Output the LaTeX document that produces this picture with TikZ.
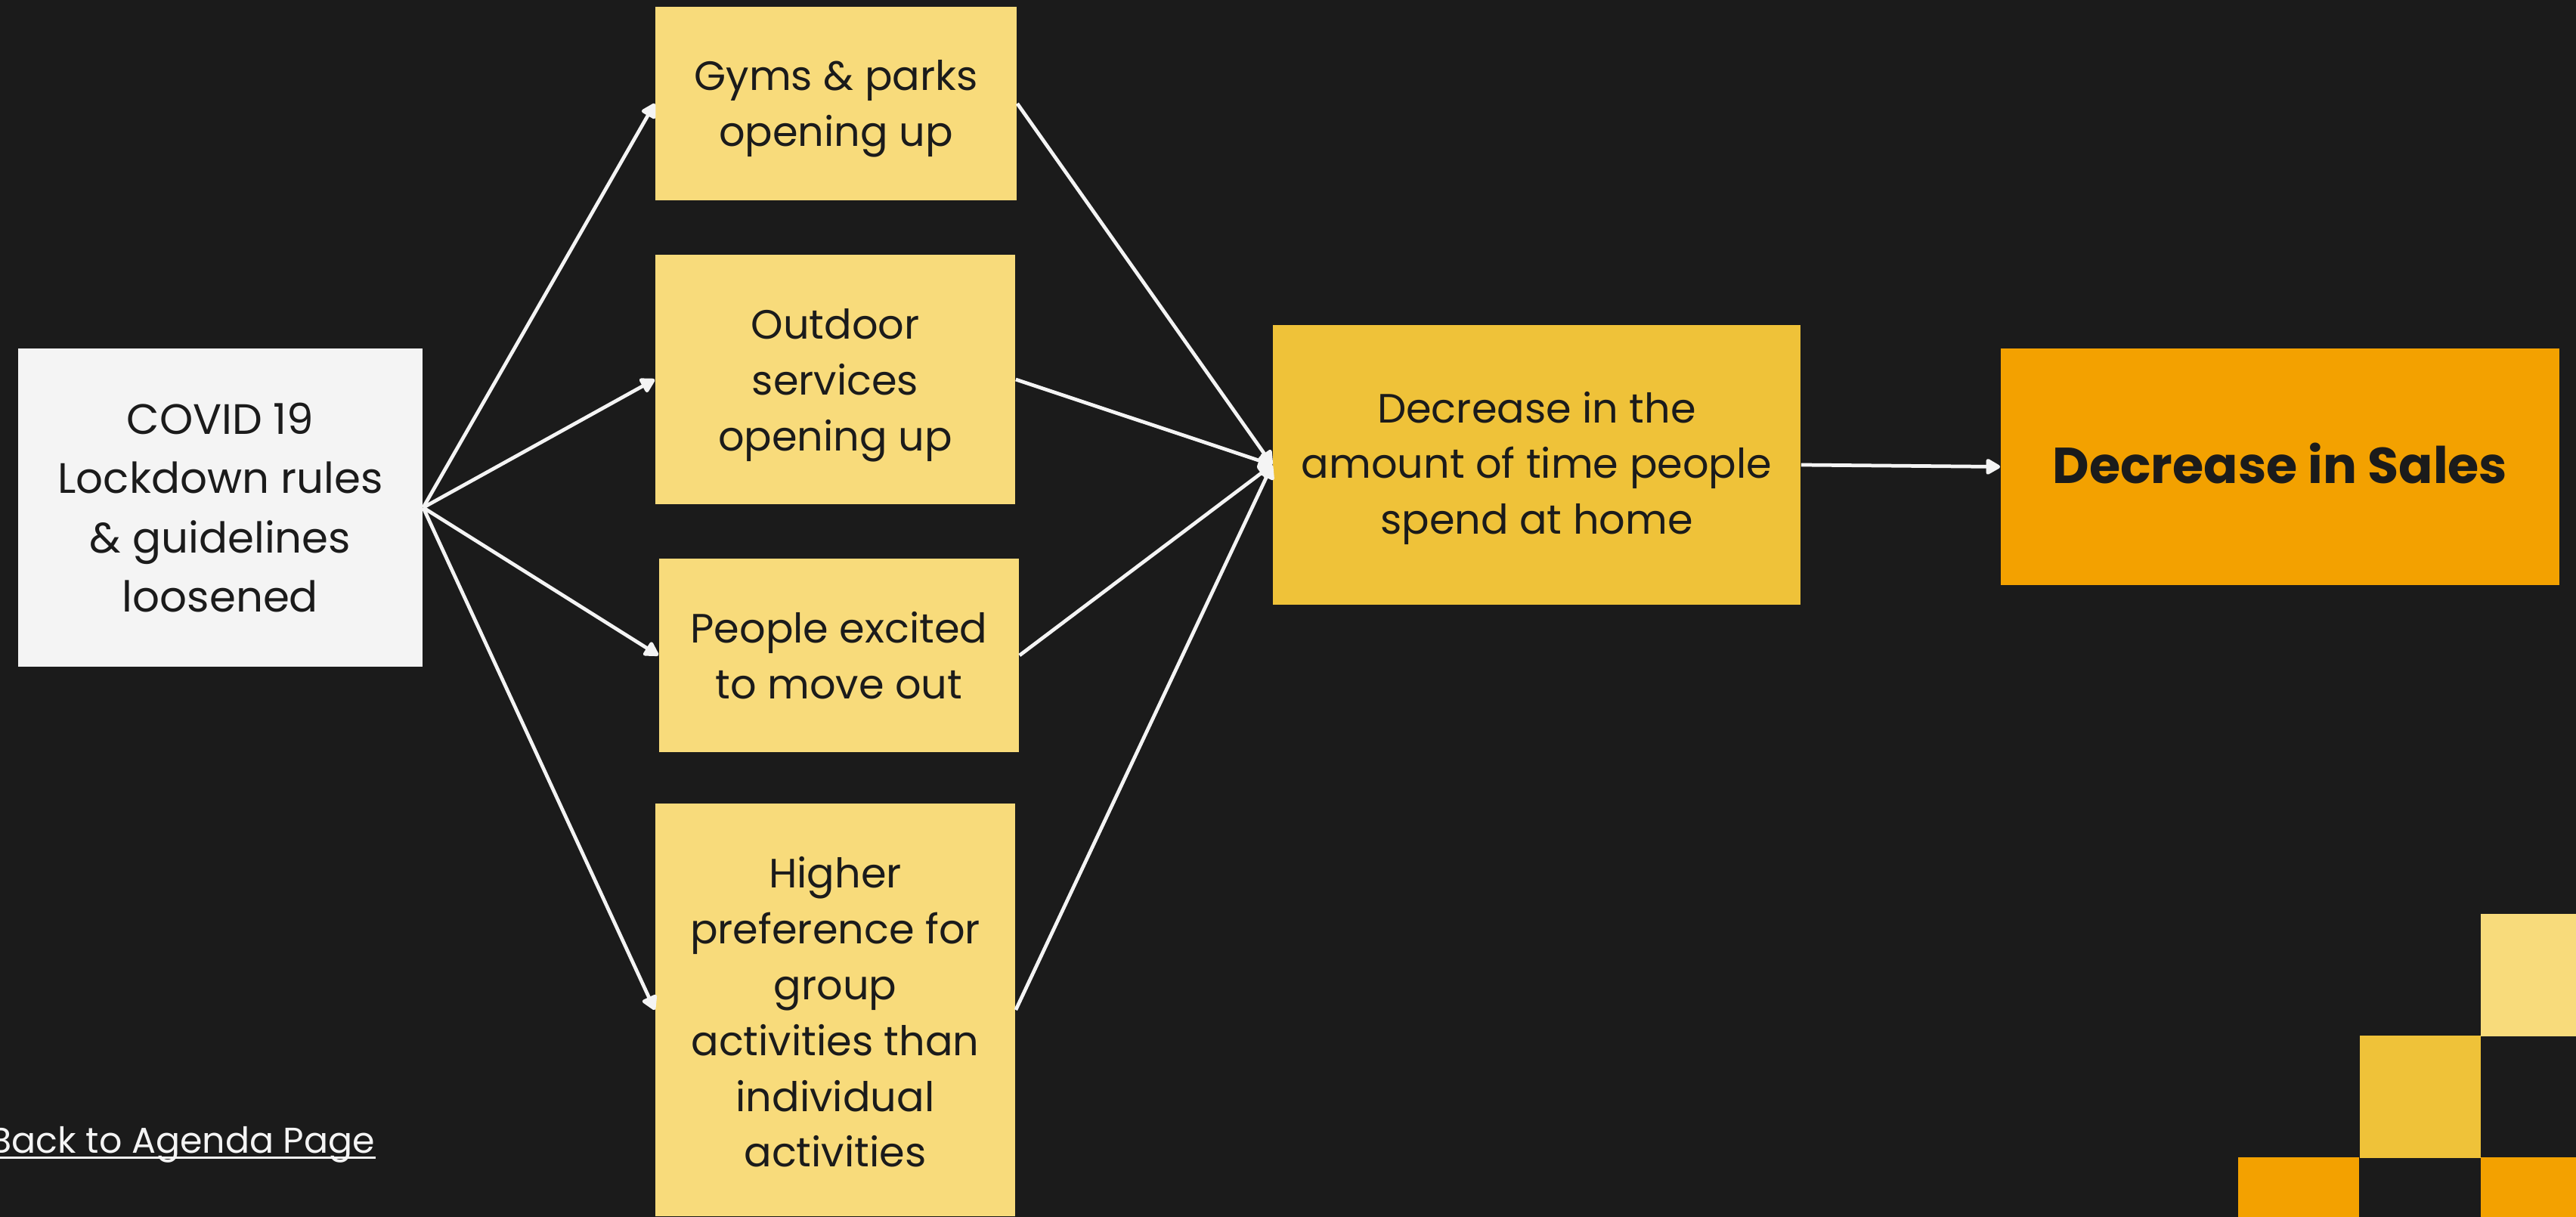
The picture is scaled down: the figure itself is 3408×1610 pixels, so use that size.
\documentclass[tikz,border=0pt]{standalone}
\usepackage{fontspec}
\setmainfont{Poppins}
\usetikzlibrary{arrows.meta}
\definecolor{bgdark}{HTML}{1B1B1B}
\definecolor{paleyellow}{HTML}{F8DB7B}
\definecolor{midyellow}{HTML}{EFC239}
\definecolor{deeporange}{HTML}{F3A100}
\definecolor{offwhite}{HTML}{F4F4F4}
\tikzset{
  box/.style={inner sep=0pt, draw=none},
  caption/.style={inner sep=0pt, align=center, text=bgdark,
    font=\fontsize{15.4}{21}\selectfont},
  link/.style={draw=offwhite, line width=1.35pt,
    -{Triangle[length=6pt, width=6.5pt, round]}},
  tile/.style={inner sep=0pt, minimum width=1.6cm, minimum height=1.62cm}
}
\begin{document}
\begin{tikzpicture}[x=0.01cm, y=-0.01cm]
  % canvas
  \fill[bgdark] (0,0) rectangle (3408,1610);
  \useasboundingbox (0,0) rectangle (3408,1610);

  % cause
  \node[box, fill=offwhite, minimum width=5.35cm, minimum height=4.21cm]
        (covid) at (291.5,671.5) {};
  \node[caption, font=\fontsize{16}{22.2}\selectfont] (covid-t) at (covid.center)
        {COVID 19\\Lockdown rules\\\& guidelines\\loosened};

  % intermediate effects
  \node[box, fill=paleyellow, minimum width=4.78cm, minimum height=2.56cm]
        (gyms) at (1106,137) {};
  \node[caption, yshift=-0.065cm] (gyms-t) at (gyms.center)
        {Gyms \& parks\\opening up};

  \node[box, fill=paleyellow, minimum width=4.76cm, minimum height=3.30cm]
        (outdoor) at (1105,502) {};
  \node[caption, yshift=-0.075cm] (outdoor-t) at (outdoor.center)
        {Outdoor\\services\\opening up};

  \node[box, fill=paleyellow, minimum width=4.76cm, minimum height=2.56cm]
        (people) at (1110,867) {};
  \node[caption] (people-t) at (people.center)
        {People excited\\to move out};

  \node[box, fill=paleyellow, minimum width=4.76cm, minimum height=5.46cm]
        (higher) at (1105,1336) {};
  \node[caption, yshift=-0.03cm] (higher-t) at (higher.center)
        {Higher\\preference for\\group\\activities than\\individual\\activities};

  % outcome
  \node[box, fill=midyellow, minimum width=6.98cm, minimum height=3.70cm]
        (dec) at (2033,615) {};
  \node[caption, yshift=-0.043cm] (dec-t) at (dec.center)
        {Decrease in the\\amount of time people\\spend at home};

  \node[box, fill=deeporange, minimum width=7.39cm, minimum height=3.13cm]
        (sales) at (3016.5,617.5) {};
  \node[caption, yshift=0.04cm, font=\fontsize{19}{24}\selectfont\bfseries]
        (sales-t) at (sales.center) {Decrease in Sales};

  % connectors
  \draw[link] (covid.east) -- (gyms.west);
  \draw[link] (covid.east) -- (outdoor.west);
  \draw[link] (covid.east) -- (people.west);
  \draw[link] (covid.east) -- (higher.west);
  \draw[link] (gyms.east) -- (dec.west);
  \draw[link] (outdoor.east) -- (dec.west);
  \draw[link] (people.east) -- (dec.west);
  \draw[link] (higher.east) -- (dec.west);
  \draw[link] (dec.east) -- (sales.west);

  % navigation link with its underline
  \node[anchor=base west, inner sep=0pt, text=offwhite,
        font=\fontsize{13.5}{16}\selectfont] (back) at (-14,1525)
        {Back to Agenda Page};
  \draw[offwhite, line width=0.8pt]
        ([yshift=-0.065cm]back.base west) -- ([yshift=-0.065cm]back.base east);

  % corner tiles
  \node[tile, fill=paleyellow, anchor=north west] (t1) at (3281,1208) {};
  \node[tile, fill=midyellow, anchor=north west] (t2) at (3121,1369) {};
  \node[tile, fill=deeporange, anchor=north west] (t3) at (2960,1530) {};
  \node[tile, fill=deeporange, anchor=north west] (t4) at (3281,1530) {};
\end{tikzpicture}
\end{document}
